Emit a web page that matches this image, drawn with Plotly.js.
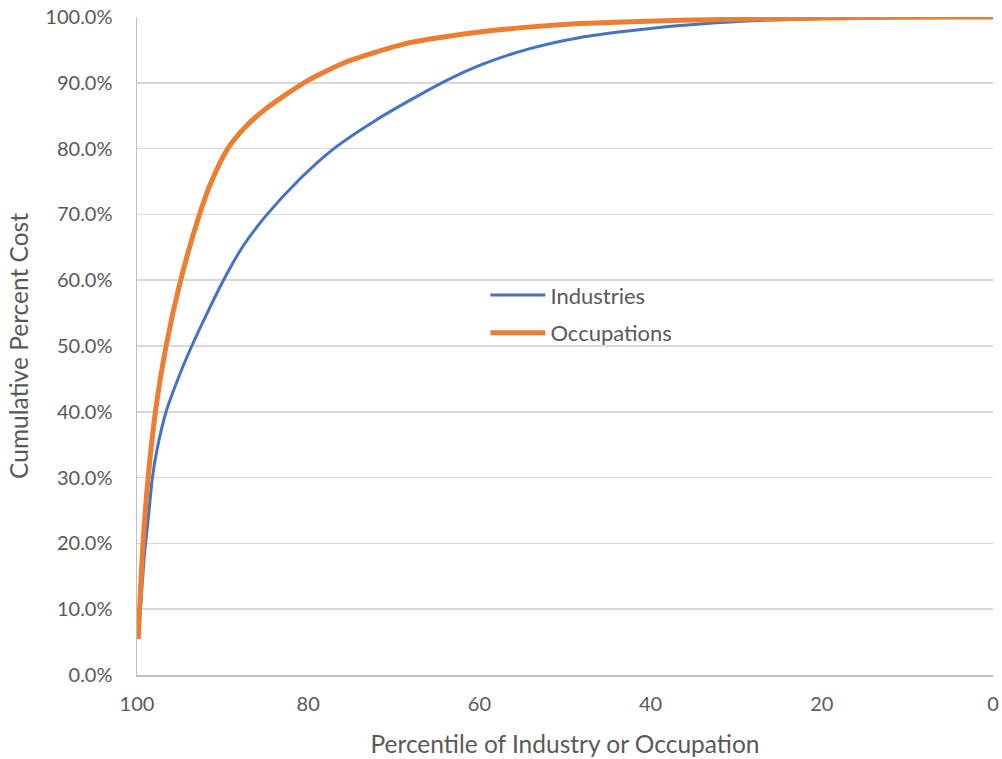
<!DOCTYPE html>
<html>
<head>
<meta charset="utf-8">
<script src="https://cdn.plot.ly/plotly-3.0.1.min.js"></script>
<style>html,body{margin:0;padding:0;background:#fff;}#chart{width:1002px;height:759px;}</style>
</head>
<body>
<div id="chart"></div>
<script>
// Percentile (x) and cumulative percent cost (y, %)
const industriesX = [99.85, 99.6, 99.15, 98.7, 98.2, 97.7, 96.6, 95.0, 93.6, 91.8, 89.9, 87.6, 84.8, 80.8, 77.0, 72.0, 64.4, 59.9, 54.1, 48.2, 42.4, 36.6, 30.7, 24.9, 15, 5, 0];
const industriesY = [5.5, 10, 18, 23.6, 30, 34, 40, 45.7, 50, 55, 60, 65.2, 70, 75.6, 80, 84.4, 90.0, 92.7, 95.2, 96.9, 97.9, 98.7, 99.25, 99.6, 99.88, 100, 100];
const occupationsX = [99.85, 99.7, 99.3, 98.7, 97.85, 96.6, 94.9, 92.7, 91.3, 89.4, 87.4, 85.0, 80.5, 75.5, 68.5, 64.0, 58.8, 54.0, 48.2, 36.6, 24.9, 15, 5, 0];
const occupationsY = [5.5, 10, 20, 30, 40, 50, 60, 70, 75, 80, 83.2, 86, 90, 93.2, 96.0, 97.0, 97.9, 98.5, 99.0, 99.5, 99.75, 99.92, 100, 100];
const seriesNames = ["Industries", "Occupations"];
const xTicks = [100, 80, 60, 40, 20, 0];
const yTicks = [0, 10, 20, 30, 40, 50, 60, 70, 80, 90, 100];

const fam = "Lato, 'Open Sans', sans-serif";
const tickFont = {family: fam, size: 20, color: "#595959"};
const titleFont = {family: fam, size: 24.5, color: "#595959"};
const traces = [
  {x: industriesX, y: industriesY, name: seriesNames[0], type: "scatter", mode: "lines",
   line: {color: "#4472C4", width: 3, shape: "spline", smoothing: 0.7}, legendgroup: "a"},
  {x: occupationsX, y: occupationsY, name: seriesNames[1], type: "scatter", mode: "lines",
   line: {color: "#ED7D31", width: 5, shape: "spline", smoothing: 0.7}, legendgroup: "b"}
];
const layout = {
  width: 1002, height: 759,
  margin: {l: 137, r: 9, t: 17, b: 84},
  paper_bgcolor: "#fff", plot_bgcolor: "#fff",
  font: tickFont,
  xaxis: {
    range: [100, 0], tickvals: xTicks, ticktext: xTicks.map(String),
    showgrid: false, zeroline: false, showline: true, linecolor: "#BFBFBF", linewidth: 1.5,
    ticks: "", tickfont: tickFont, ticklabelstandoff: 10, automargin: false,
    title: {text: "Percentile of Industry or Occupation", font: titleFont, standoff: 22}
  },
  yaxis: {
    range: [0, 100], tickvals: yTicks, ticktext: yTicks.map(v => v.toFixed(1) + "%"),
    showgrid: true, gridcolor: "#D9D9D9", gridwidth: 1.5, zeroline: false,
    showline: true, linecolor: "#BFBFBF", linewidth: 1.5, ticks: "",
    tickfont: tickFont, ticklabelstandoff: 19, automargin: false,
    title: {text: "Cumulative Percent Cost", font: titleFont, standoff: 10}
  },
  showlegend: true,
  legend: {x: 0.407, y: 0.609, xanchor: "left", yanchor: "top", bgcolor: "rgba(0,0,0,0)",
           font: {family: fam, size: 22, color: "#595959"}, tracegroupgap: 6, itemwidth: 55},
};
Plotly.newPlot("chart", traces, layout, {displayModeBar: false, staticPlot: true});
</script>
</body>
</html>
